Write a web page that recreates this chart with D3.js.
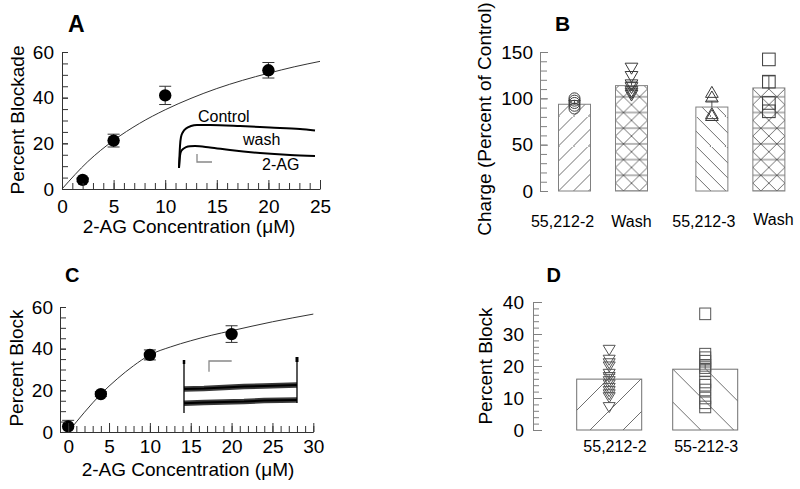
<!DOCTYPE html>
<html><head><meta charset="utf-8">
<script src="https://cdn.jsdelivr.net/npm/d3@7"></script>
<style>
body{margin:0;background:#fff}
text{font-family:"Liberation Sans",Arial,Helvetica,sans-serif}
</style></head><body>
<svg id="c" width="800" height="489" xmlns="http://www.w3.org/2000/svg"></svg>
<script>
// ================= DATA =================
// Panel A : dose-response
const aConc = [2, 5, 10, 20];
const aBlock = [4, 21.2, 41, 52];
const aErr = [0.8, 2.8, 4, 3.4];
const aFitConc = [0, 2.5, 5, 7.5, 10, 12.5, 15, 17.5, 20, 22.5, 25];
const aFitBlock = [0, 12, 21.3, 28.7, 34.7, 39.7, 44, 47.6, 50.7, 53.5, 55.9];
const aXTicks = [0, 5, 10, 15, 20, 25];
const aYTicks = [0, 20, 40, 60];
// Panel A inset traces (time, current; arbitrary units)
const insACtrlT = [0, 1, 2, 4, 7, 12, 18, 31, 61, 91, 121, 136];
const insACtrlI = [0, 22, 31, 36, 39.5, 42, 43, 43, 42, 40.5, 39, 37.5];
const insAAgT = [0, 1, 2, 4, 7, 11, 16, 31, 51, 81, 111, 136];
const insAAgI = [0, 12, 16.5, 19, 20.8, 21.8, 22, 20.5, 18, 15, 13, 12];
const insAScaleT = [18, 18, 33];
const insAScaleI = [14, 6, 6];

// Panel B : charge, percent of control
const bCats = ["55,212-2", "Wash", "55,212-3", "Wash"];
const bPos = [1, 2, 3.41, 4.41];
const bLabelPos = [0.79, 2.0, 3.27, 4.49];
const bMeans = [93.6, 113.7, 90.6, 111.2];
const bErr = [4, 4, 6.5, 13];
const bCircles = [100, 97.5, 95, 92, 89];
const bDownTri = [132, 123, 114, 111, 107, 105, 103];
const bUpTri = [107, 102, 84, 82];
const bSquares = [142, 118, 95, 86];
const bYTicks = [0, 50, 100, 150];

// Panel C : dose-response
const cConc = [0, 4, 10, 20];
const cBlock = [2.7, 18.2, 37, 47];
const cErr = [2.9, 1.2, 2.4, 4];
const cFitConc = [0, 2, 4, 6, 8, 10, 12.5, 15, 17.5, 20, 22.5, 25, 27.5, 30];
const cFitBlock = [0, 9.5, 18.2, 25.5, 31.8, 37, 40.8, 43.8, 46.4, 48.6, 50.8, 52.9, 54.8, 56.6];
const cXTicks = [0, 5, 10, 15, 20, 25, 30];
const cYTicks = [0, 20, 40, 60];
// Panel C inset traces
const insCT = [0, 20, 40, 60, 80, 113];
const insCUpper = [24, 24.5, 25.5, 26.5, 27, 28];
const insCLower = [9.7, 10.5, 11, 11.5, 12.5, 13];
const insCLeftSpikeI = [0, 53];
const insCRightSpikeI = [10, 56];
const insCScaleT = [25, 25, 47.7];
const insCScaleI = [41.3, 52, 52];

// Panel D : percent block
const dCats = ["55,212-2", "55-212-3"];
const dPos = [1, 2];
const dLabelPos = [1.06, 2.01];
const dMeans = [15.9, 19.0];
const dErr = [1.5, 1.6];
const dDownTri = [24.9, 21.8, 20.7, 19.7, 17.4, 16.4, 15.1, 14.1, 13.0, 12.0, 11.0, 10.1, 7.0];
const dSquares = [36.3, 23.7, 22.6, 21.5, 20.2, 19.5, 18.5, 15, 14, 12.5, 10, 8.5, 7.2];
const dYTicks = [0, 10, 20, 30, 40];

// ================= DRAWING =================
const svg = d3.select("#c");
svg.append("rect").attr("width", 800).attr("height", 489).attr("fill", "#fff");
const FONT = '"Liberation Sans", Arial, Helvetica, sans-serif';

// ---- patterns ----
const defs = svg.append("defs");
function pat(id, w, h, ox, d) {
  defs.append("pattern").attr("id", id).attr("patternUnits", "userSpaceOnUse")
    .attr("width", w).attr("height", h).attr("x", ox).attr("y", 0)
    .append("path").attr("d", d).attr("stroke", "#4a4a4a").attr("stroke-width", 0.8).attr("fill", "none");
}
pat("hB1", 15, 15, 0, "M0,15L15,0M-2,2L2,-2M13,17L17,13");
pat("hB3", 15, 15, 0, "M0,0L15,15M-2,13L2,17M13,-2L17,2");
pat("hBx", 16, 15.7, 8, "M0,0L16,15.7M16,0L0,15.7M0,0H16M0,15.7H16");
pat("hD1", 33, 33, 13.3, "M0,33L33,0M-2,2L2,-2M31,35L35,31");
pat("hD2", 33, 33, 28, "M0,0L33,33M-2,31L2,35M31,-2L35,2");

// ---- axis helpers ----
function leftAxis(scale, x, major, minor, majLen, minLen, pad, col) {
  const gm = svg.append("g").attr("transform", `translate(${x},0)`)
    .call(d3.axisLeft(scale).tickValues(minor).tickSize(-minLen).tickSizeOuter(0).tickFormat(""));
  gm.select(".domain").remove();
  gm.selectAll("line").attr("stroke", col);
  const g = svg.append("g").attr("transform", `translate(${x},0)`)
    .call(d3.axisLeft(scale).tickValues(major).tickSize(-majLen).tickSizeOuter(0).tickPadding(pad));
  g.attr("font-family", FONT).attr("font-size", 19);
  g.selectAll("line").attr("stroke", col);
  g.select(".domain").attr("stroke", col);
  g.selectAll("text").attr("fill", "#000");
  return g;
}
function bottomAxis(scale, y, major, minor, majLen, minLen, pad, col) {
  const gm = svg.append("g").attr("transform", `translate(0,${y})`)
    .call(d3.axisBottom(scale).tickValues(minor).tickSize(-minLen).tickSizeOuter(0).tickFormat(""));
  gm.select(".domain").remove();
  gm.selectAll("line").attr("stroke", col);
  const g = svg.append("g").attr("transform", `translate(0,${y})`)
    .call(d3.axisBottom(scale).tickValues(major).tickSize(-majLen).tickSizeOuter(0).tickPadding(pad));
  g.attr("font-family", FONT).attr("font-size", 19);
  g.selectAll("line").attr("stroke", col);
  g.select(".domain").attr("stroke", col);
  g.selectAll("text").attr("fill", "#000");
  return g;
}
function txt(x, y, s, size, opts = {}) {
  const t = svg.append("text").attr("x", x).attr("y", y).text(s)
    .attr("font-size", size).attr("font-family", FONT).attr("fill", "#000");
  if (opts.anchor) t.attr("text-anchor", opts.anchor);
  if (opts.bold) t.attr("font-weight", "bold");
  if (opts.rot) t.attr("x", null).attr("y", null).attr("transform", `translate(${x},${y}) rotate(-90)`);
  return t;
}
function doseResponse(xs, ys, conc, block, err, fitX, fitY) {
  const line = d3.line().x((d, i) => xs(fitX[i])).y(d => ys(d)).curve(d3.curveMonotoneX);
  svg.append("path").attr("d", line(fitY)).attr("fill", "none").attr("stroke", "#333").attr("stroke-width", 1);
  const g = svg.append("g");
  conc.forEach((c, i) => {
    const cx = xs(c), lo = ys(block[i] - err[i]), hi = ys(block[i] + err[i]);
    g.append("line").attr("x1", cx).attr("x2", cx).attr("y1", lo).attr("y2", hi).attr("stroke", "#333");
    g.append("line").attr("x1", cx - 6).attr("x2", cx + 6).attr("y1", lo).attr("y2", lo).attr("stroke", "#333");
    g.append("line").attr("x1", cx - 6).attr("x2", cx + 6).attr("y1", hi).attr("y2", hi).attr("stroke", "#333");
    g.append("circle").attr("cx", cx).attr("cy", ys(block[i])).attr("r", 6.2).attr("fill", "#000");
  });
}

// ================= PANEL A =================
const ax = d3.scaleLinear().domain([0, 25]).range([62, 320]);
const ay = d3.scaleLinear().domain([0, 60]).range([189, 52]);
doseResponse(ax, ay, aConc, aBlock, aErr, aFitConc, aFitBlock);
bottomAxis(ax, 189, aXTicks, d3.range(0, 26, 1), 9, 6, 11, "#333");
leftAxis(ay, 62, aYTicks, d3.range(0, 61, 5), 6, 6, 8, "#333");
txt(68, 31.5, "A", 23, { bold: true });
txt(23.5, 120, "Percent Blockade", 19, { anchor: "middle", rot: true });
txt(189, 233, "2-AG Concentration (\u03bcM)", 19, { anchor: "middle" });
// inset A
const iax = d3.scaleLinear().domain([0, 136]).range([179, 315]);
const iay = d3.scaleLinear().domain([0, 43]).range([168, 125]);
const trA = (T, I) => d3.line().x((d, i) => iax(T[i])).y(d => iay(d)).curve(d3.curveMonotoneX)(I);
svg.append("path").attr("d", trA(insACtrlT, insACtrlI)).attr("fill", "none").attr("stroke", "#000").attr("stroke-width", 2);
svg.append("path").attr("d", trA(insAAgT, insAAgI)).attr("fill", "none").attr("stroke", "#000").attr("stroke-width", 2);
svg.append("path").attr("d", d3.line().x((d, i) => iax(insAScaleT[i])).y(d => iay(d))(insAScaleI))
  .attr("fill", "none").attr("stroke", "#888").attr("stroke-width", 1.3);
txt(198, 122, "Control", 16);
txt(243, 145, "wash", 16);
txt(262, 170, "2-AG", 16);

// ================= PANEL C =================
const cx = d3.scaleLinear().domain([-1, 30]).range([60, 313.3]);
const cy = d3.scaleLinear().domain([0, 60]).range([432, 307]);
doseResponse(cx, cy, cConc, cBlock, cErr, cFitConc, cFitBlock);
bottomAxis(cx, 432, cXTicks, d3.range(0, 31, 1), 9, 6, 8, "#333");
leftAxis(cy, 60, cYTicks, d3.range(0, 61, 5), 6, 6, 7, "#333");
txt(65, 282, "C", 20, { bold: true });
txt(23, 368, "Percent Block", 19, { anchor: "middle", rot: true });
txt(188, 476, "2-AG Concentration (\u03bcM)", 19, { anchor: "middle" });
// inset C
const icx = d3.scaleLinear().domain([0, 113]).range([184, 297]);
const icy = d3.scaleLinear().domain([0, 56]).range([413, 357]);
const trC = (T, I) => d3.line().x((d, i) => icx(T[i])).y(d => icy(d))(I);
[insCUpper, insCLower].forEach(tr => {
  svg.append("path").attr("d", trC(insCT, tr)).attr("fill", "none").attr("stroke", "#3a3a3a").attr("stroke-width", 5.5);
  svg.append("path").attr("d", trC(insCT, tr)).attr("fill", "none").attr("stroke", "#000").attr("stroke-width", 2);
});
svg.append("path").attr("d", trC([0, 0], insCLeftSpikeI)).attr("stroke", "#000").attr("stroke-width", 1.3);
svg.append("path").attr("d", trC([113, 113], insCRightSpikeI)).attr("stroke", "#000").attr("stroke-width", 1.3);
svg.append("path").attr("d", trC([113, 113], [51, 56])).attr("stroke", "#000").attr("stroke-width", 3);
svg.append("path").attr("d", trC([0, 0], [49, 53])).attr("stroke", "#000").attr("stroke-width", 2.5);
svg.append("path").attr("d", trC(insCScaleT, insCScaleI)).attr("fill", "none").attr("stroke", "#888").attr("stroke-width", 1.3);

// ================= PANEL B =================
const bx = d3.scaleLinear().domain([0, 5]).range([517.5, 802.5]);
const by = d3.scaleLinear().domain([0, 150]).range([191, 52]);
const bFills = ["hB1", "hBx", "hB3", "hBx"];
const bW = 32;
bMeans.forEach((m, i) => {
  const left = bx(bPos[i]) - bW / 2, base = by(0);
  const g = svg.append("g").attr("transform", `translate(${left},${base})`);
  g.append("rect").attr("x", 0).attr("y", by(m) - base).attr("width", bW).attr("height", base - by(m))
    .attr("fill", `url(#${bFills[i]})`).attr("stroke", "#808080").attr("stroke-width", 1);
});
leftAxis(by, 540, bYTicks, d3.range(0, 151, 10), 8, 7, 7, "#808080");
// error bars (upward)
bMeans.forEach((m, i) => {
  const x = bx(bPos[i]);
  svg.append("path").attr("d", `M${x},${by(m)}V${by(m + bErr[i])}M${x - 6},${by(m + bErr[i])}H${x + 6}`)
    .attr("stroke", "#555").attr("fill", "none");
});
const mk = svg.append("g").attr("fill", "none").attr("stroke", "#3a3a3a").attr("stroke-width", 1);
bCircles.forEach(v => mk.append("circle").attr("cx", bx(bPos[0])).attr("cy", by(v)).attr("r", 5.5));
const triDown = (w, h) => `M${-w / 2},${-h / 2}L${w / 2},${-h / 2}L0,${h / 2}Z`;
const triUp = (w, h) => `M${-w / 2},${h / 2}L${w / 2},${h / 2}L0,${-h / 2}Z`;
bDownTri.forEach(v => mk.append("path").attr("d", triDown(12.7, 11)).attr("transform", `translate(${bx(bPos[1])},${by(v)})`));
bUpTri.forEach(v => mk.append("path").attr("d", triUp(12.7, 11)).attr("transform", `translate(${bx(bPos[2])},${by(v)})`));
bSquares.forEach(v => mk.append("rect").attr("x", bx(bPos[3]) - 6.3).attr("y", by(v) - 6.3).attr("width", 12.6).attr("height", 12.6));
bCats.forEach((c, i) => txt(bx(bLabelPos[i]), i === 3 ? 225 : 226.5, c, 16, { anchor: "middle" }));
txt(555, 31, "B", 21, { bold: true });
txt(491, 119, "Charge (Percent of Control)", 19, { anchor: "middle", rot: true });

// ================= PANEL D =================
const dx = d3.scaleLinear().domain([0, 3]).range([513.2, 801.2]);
const dy = d3.scaleLinear().domain([0, 40]).range([430, 302]);
const dFills = ["hD1", "hD2"];
const dW = 65;
dMeans.forEach((m, i) => {
  const left = dx(dPos[i]) - dW / 2, base = dy(0);
  const g = svg.append("g").attr("transform", `translate(${left},${base})`);
  g.append("rect").attr("x", 0).attr("y", dy(m) - base).attr("width", dW).attr("height", base - dy(m))
    .attr("fill", `url(#${dFills[i]})`).attr("stroke", "#707070").attr("stroke-width", 1);
});
leftAxis(dy, 533, dYTicks, d3.range(0, 41, 2), 9, 6, 9, "#808080");
dMeans.forEach((m, i) => {
  const x = dx(dPos[i]);
  svg.append("path").attr("d", `M${x},${dy(m)}V${dy(m + dErr[i])}M${x - 6},${dy(m + dErr[i])}H${x + 6}`)
    .attr("stroke", "#555").attr("fill", "none");
});
const mkD = svg.append("g").attr("fill", "none").attr("stroke", "#555").attr("stroke-width", 1);
dDownTri.forEach(v => mkD.append("path").attr("d", triDown(12, 10)).attr("transform", `translate(${dx(dPos[0])},${dy(v)})`));
dSquares.forEach(v => mkD.append("rect").attr("x", dx(dPos[1]) - 5.5).attr("y", dy(v) - 5.8).attr("width", 11).attr("height", 11.6));
dCats.forEach((c, i) => txt(dx(dLabelPos[i]), 452, c, 16, { anchor: "middle" }));
txt(546.5, 282, "D", 20, { bold: true });
txt(491.5, 366, "Percent Block", 19, { anchor: "middle", rot: true });
</script>
</body></html>
